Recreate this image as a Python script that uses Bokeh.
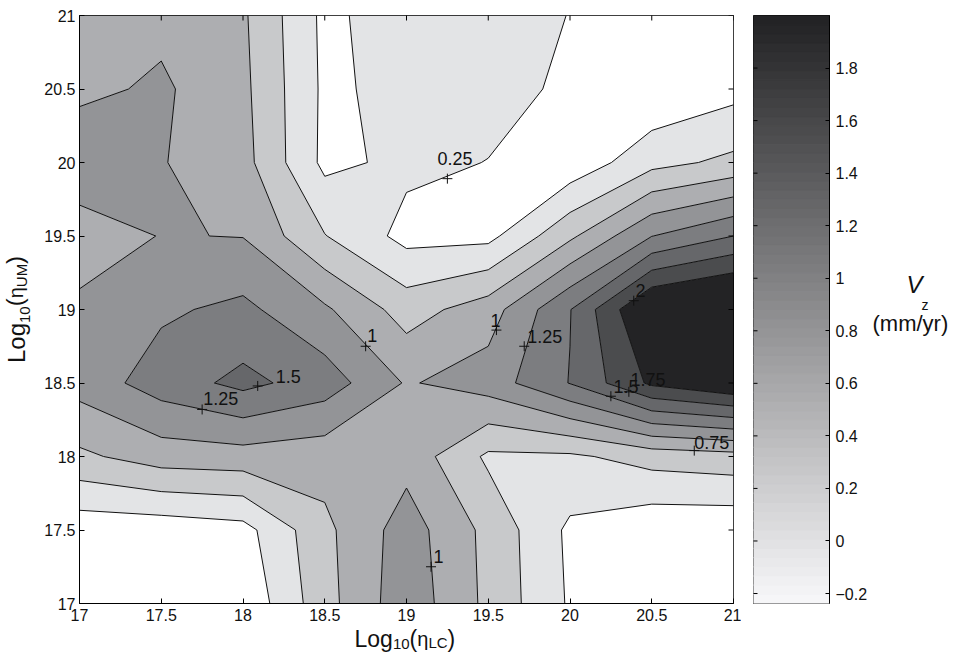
import math
import numpy as np
from bokeh.plotting import figure
from bokeh.models import Range1d, FixedTicker, ColumnDataSource
from bokeh.layouts import row, column
from bokeh.embed import file_html
from bokeh.resources import INLINE
from bokeh.core.properties import value

# ---------------- data ----------------
x_vals = [17.0, 17.5, 18.0, 18.5, 19.0, 19.5, 20.0, 20.5, 21.0]   # Log10(eta_LC)
y_vals = [17.0, 17.5, 18.0, 18.5, 19.0, 19.5, 20.0, 20.5, 21.0]   # Log10(eta_UM)

# Vz (mm/yr), one row per y value (bottom to top), one column per x value
vz_y17_0 = [-0.10, -0.05, 0.05, 0.66, 1.16, 0.69, 0.22, -0.10, -0.24]
vz_y17_5 = [0.085, 0.095, 0.16, 0.69, 1.12, 0.68, 0.20, 0.06, 0.05]
vz_y18_0 = [0.70, 0.87, 0.895, 0.85, 0.91, 0.455, 0.458, 0.60, 0.654]
vz_y18_5 = [1.10, 1.37, 1.57, 1.38, 0.977, 1.12, 1.51, 2.05, 2.25]
vz_y19_0 = [1.054, 1.21, 1.31, 1.04, 0.64, 0.88, 1.49, 2.33, 2.50]
vz_y19_5 = [0.862, 1.01, 0.993, 0.51, 0.17, 0.177, 0.70, 1.245, 1.50]
vz_y20_0 = [1.19, 1.014, 0.84, 0.19, 0.305, 0.245, 0.075, 0.42, 0.56]
vz_y20_5 = [0.94, 1.04, 0.81, 0.20, 0.33, 0.33, 0.21, 0.03, 0.165]
vz_y21_0 = [0.90, 0.935, 0.786, 0.19, 0.39, 0.35, 0.245, 0.05, 0.10]

contour_levels = [-1.0, 0.25, 0.5, 0.75, 1.0, 1.25, 1.5, 1.75, 2.0, 3.0]
band_colors = ["#ffffff", "#e3e4e6", "#c8c9cb", "#adaeb1", "#939497",
               "#7c7d80", "#66676a", "#4b4c4e", "#232325"]

tick_vals = [17.0, 17.5, 18.0, 18.5, 19.0, 19.5, 20.0, 20.5, 21.0]
tick_labels = ["17", "17.5", "18", "18.5", "19", "19.5", "20", "20.5", "21"]

cbar_ticks = [-0.2, 0.0, 0.2, 0.4, 0.6, 0.8, 1.0, 1.2, 1.4, 1.6, 1.8]
cbar_tick_labels = ["\u22120.2", "0", "0.2", "0.4", "0.6", "0.8", "1", "1.2", "1.4", "1.6", "1.8"]
cbar_min, cbar_max = -0.238, 2.0

# inline contour labels: text (lower-left corner of the text), "+" position
clabel_text = ["0.25", "1", "1.5", "1.25", "1", "1.25", "1.5", "1.75", "2", "0.75", "1"]
clabel_x = [19.19, 18.76, 18.20, 17.757, 19.514, 19.738, 20.266, 20.37, 20.40, 20.76, 19.165]
clabel_y = [19.98, 18.78, 18.495, 18.347, 18.88, 18.773, 18.427, 18.476, 19.08, 18.052, 17.272]
cmark_x = [19.25, 18.75, 18.09, 17.75, 19.55, 19.72, 20.25, 20.36, 20.39, 20.76, 19.15]
cmark_y = [19.89, 18.75, 18.48, 18.32, 18.86, 18.75, 18.41, 18.44, 19.06, 18.04, 17.25]

# axis titles, in pieces: (text, font px)
xtitle_parts = [("Log", 23), ("10", 15), ("(", 23), ("\u03b7", 20), ("LC", 15), (")", 23)]
ytitle_parts = [("Log", 24), ("10", 15), ("(", 24), ("\u03b7", 20), ("UM", 15), (")", 24)]
cbtitle_parts = [("V", 24, "italic"), ("z", 14, "normal"), ("(mm/yr)", 22, "normal")]

# ---------------- layout (page pixels) ----------------
FONT = "Liberation Sans"
PAGE_H = 652
FX0, FX1, FY0, FY1 = 79, 733, 15, 603      # main frame
CX0, CX1 = 753, 829                        # colour-bar frame
YL_W = 36                                  # y-title strip width
MAIN_W = 741 - YL_W                        # main figure width
MAIN_H = 626                               # main figure height
CB_W = 130
TT_W = 964 - 741 - CB_W - 1
BASE_SHIFT = 0.38                          # baseline correction, in em


def text_panel(width, height, xr, yr):
    f = figure(width=width, height=height, x_range=Range1d(*xr), y_range=Range1d(*yr),
               output_backend="svg", toolbar_location=None,
               x_axis_location=None, y_axis_location=None,
               min_border_left=0, min_border_right=0, min_border_top=0, min_border_bottom=0)
    f.grid.visible = False
    f.outline_line_color = None
    f.background_fill_color = "white"
    f.border_fill_color = "white"
    return f


# ---------------- main contour figure ----------------
Z = np.array([vz_y17_0, vz_y17_5, vz_y18_0, vz_y18_5, vz_y19_0,
              vz_y19_5, vz_y20_0, vz_y20_5, vz_y21_0])

p = figure(width=MAIN_W, height=MAIN_H,
           x_range=Range1d(x_vals[0], x_vals[-1]), y_range=Range1d(y_vals[0], y_vals[-1]),
           output_backend="svg", toolbar_location=None,
           min_border_left=FX0 - YL_W, min_border_right=YL_W + MAIN_W - FX1,
           min_border_top=FY0, min_border_bottom=MAIN_H - FY1)
p.grid.visible = False
p.outline_line_color = "black"
p.outline_line_width = 1
p.background_fill_color = "white"
p.border_fill_color = "white"

overrides = dict(zip(tick_vals, tick_labels))
for ax, standoff in ((p.xaxis[0], 5), (p.yaxis[0], 4)):
    ax.ticker = FixedTicker(ticks=tick_vals)
    ax.major_label_overrides = overrides
    ax.major_tick_in = 5
    ax.major_tick_out = 0
    ax.minor_tick_in = 0
    ax.minor_tick_out = 0
    ax.axis_line_color = "black"
    ax.major_tick_line_color = "black"
    ax.major_label_text_font = FONT
    ax.major_label_text_color = "#111111"
    ax.major_label_text_font_size = "16px"
    ax.major_label_standoff = standoff

p.contour(x=x_vals, y=y_vals, z=Z, levels=contour_levels,
          fill_color=band_colors, line_color="#111111", line_width=1)

# inward ticks on the top and right edges (outer half is clipped by the frame)
p.scatter(x=tick_vals, y=[y_vals[-1]] * len(tick_vals), marker="dash", angle=math.pi / 2,
          size=10, line_color="black", line_width=1)
p.scatter(x=[x_vals[-1]] * len(tick_vals), y=tick_vals, marker="dash",
          size=10, line_color="black", line_width=1)

lab_src = ColumnDataSource(dict(x=clabel_x, y=clabel_y, text=clabel_text))
p.text(x="x", y="y", text="text", source=lab_src, text_font=value(FONT),
       text_font_size="18px", text_color="#111111", y_offset=-BASE_SHIFT * 18,
       text_align="left", text_baseline="alphabetic")
p.scatter(cmark_x, cmark_y, marker="cross", size=10, line_color="#111111", line_width=1)

# ---------------- x title strip (frame shares p's horizontal extent) ----------------
fx = text_panel(MAIN_W, PAGE_H - MAIN_H, (FX0, FX1), (0, PAGE_H - MAIN_H))
x_left = [354, 392.4, 409.1, 416.8, 427.9, 447.1]
x_base = [647, 649, 647, 646, 648, 647]
fx.text(x=x_left, y=[PAGE_H - b for b in x_base], text=[t for t, _ in xtitle_parts],
        text_font_size=[f"{s}px" for _, s in xtitle_parts], text_font=value(FONT),
        y_offset=[-BASE_SHIFT * s for _, s in xtitle_parts],
        text_color="#111111", text_align="left", text_baseline="alphabetic")

# ---------------- y title strip (rotated, reads upward; frame shares p's vertical extent) ----
fy = text_panel(YL_W, PAGE_H, (0, YL_W), (PAGE_H - FY1, PAGE_H - FY0))
y_start = [362.5, 322.5, 305.8, 297.8, 286.7, 263.4]
y_base = [25, 30, 23, 23, 27, 23]
fy.text(x=y_base, y=[PAGE_H - s for s in y_start], text=[t for t, _ in ytitle_parts],
        text_font_size=[f"{s}px" for _, s in ytitle_parts], text_font=value(FONT),
        x_offset=[-BASE_SHIFT * s for _, s in ytitle_parts],
        angle=math.pi / 2, text_color="#111111", text_align="left", text_baseline="alphabetic")

# ---------------- colour bar ----------------
p2 = figure(width=CB_W, height=PAGE_H,
            x_range=Range1d(0, 1), y_range=Range1d(cbar_min, cbar_max),
            output_backend="svg", toolbar_location=None,
            x_axis_location=None, y_axis_location="right",
            min_border_left=CX0 - 741, min_border_right=CB_W - (CX0 - 741) - (CX1 - CX0),
            min_border_top=FY0, min_border_bottom=PAGE_H - FY1)
p2.grid.visible = False
p2.outline_line_color = "black"
p2.background_fill_color = "white"
p2.border_fill_color = "white"

edges = np.linspace(cbar_min, cbar_max, 65)
mids = (edges[:-1] + edges[1:]) / 2
light, dark = 248, 33


def gray(v):
    g = int(round(light - (v - cbar_min) / (cbar_max - cbar_min) * (light - dark)))
    return "#%02x%02x%02x" % (g, g, min(255, g + 2))


cb_cols = [gray(v) for v in mids]
p2.quad(left=0, right=1, bottom=edges[:-1], top=edges[1:],
        fill_color=cb_cols, line_color=cb_cols, line_width=1)

cax = p2.yaxis[0]
cax.ticker = FixedTicker(ticks=cbar_ticks)
cax.major_label_overrides = dict(zip(cbar_ticks, cbar_tick_labels))
cax.major_tick_in = 4
cax.major_tick_out = 0
cax.minor_tick_in = 0
cax.minor_tick_out = 0
cax.axis_line_color = "black"
cax.major_tick_line_color = "black"
cax.major_label_text_font = FONT
cax.major_label_text_color = "#111111"
cax.major_label_text_font_size = "16px"
cax.major_label_standoff = 6
p2.scatter(x=[0] * len(cbar_ticks), y=cbar_ticks, marker="dash", size=8,
           line_color="black", line_width=1)

# ---------------- colour-bar title strip (frame shares p's vertical extent) ----------------
ft = text_panel(TT_W, PAGE_H, (741 + CB_W, 741 + CB_W + TT_W), (PAGE_H - FY1, PAGE_H - FY0))
t_left = [906, 921, 872]
t_base = [293, 310, 331]
ft.text(x=t_left, y=[PAGE_H - b for b in t_base], text=[t for t, _, _ in cbtitle_parts],
        text_font_size=[f"{s}px" for _, s, _ in cbtitle_parts],
        text_font_style=[st for _, _, st in cbtitle_parts], text_font=value(FONT),
        y_offset=[-BASE_SHIFT * s for _, s, _ in cbtitle_parts],
        text_color="#111111", text_align="left", text_baseline="alphabetic")

layout = row(fy, column(p, fx), p2, ft)
open("out.html", "w").write(file_html(layout, INLINE))
